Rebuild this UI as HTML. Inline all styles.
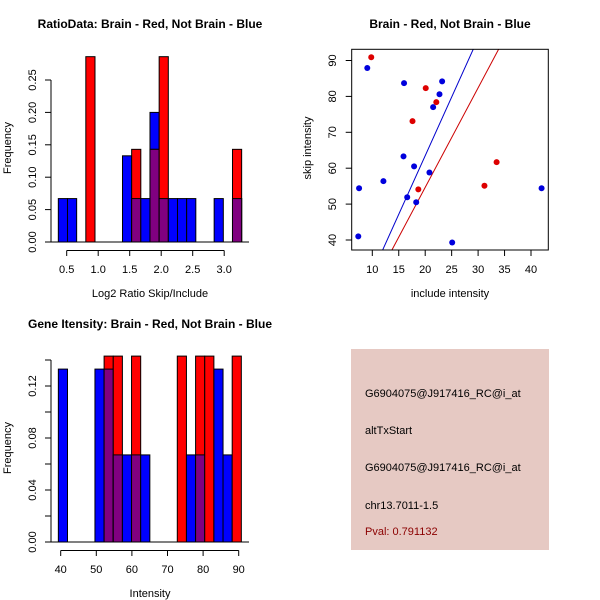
<!DOCTYPE html>
<html><head><meta charset="utf-8"><style>
body{margin:0;background:#fff;}
svg{display:block;font-family:"Liberation Sans",sans-serif;}
</style></head><body>
<svg id="s" width="600" height="600"></svg>
<script>
// Panel 1: ratio histogram
const ratioBlue=[0.067,0.067,0,0,0,0,0,0.133,0.067,0.067,0.2,0.067,0.067,0.067,0.067,0,0,0.067,0,0.067];
const ratioRed=[0,0,0,0.286,0,0,0,0,0.143,0,0.143,0.286,0,0,0,0,0,0,0,0.143];
const ratioBinStart=0.367, ratioBinW=0.1455;
const ratioXTicks=[0.5,1.0,1.5,2.0,2.5,3.0];
const ratioYTicks=[0,0.05,0.10,0.15,0.20,0.25];
// Panel 2: scatter
const blueX=[7.5,7.35,9.05,12.1,16.0,15.9,17.9,16.6,18.3,20.8,21.5,22.7,23.2,25.1,42.0];
const blueY=[54.4,41.0,87.9,56.4,83.7,63.3,60.5,51.9,50.5,58.8,77.0,80.6,84.2,39.3,54.4];
const redX=[9.8,17.6,20.1,22.1,18.7,31.2,33.5];
const redY=[90.9,73.1,82.3,78.4,54.1,55.1,61.7];
const blueLine=[-1.82,3.265]; // intercept, slope
const redLine=[-0.78,2.772];
const scXTicks=[10,15,20,25,30,35,40];
const scYTicks=[40,50,60,70,80,90];
// Panel 3: intensity histogram
const intBlue=[0.133,0,0,0,0.133,0.133,0.067,0.067,0.067,0.067,0,0,0,0,0.067,0.067,0,0.133,0.067,0];
const intRed=[0,0,0,0,0,0.143,0.143,0,0.143,0,0,0,0,0.143,0,0.143,0.143,0,0,0.143];
const intBinStart=39.34, intBinW=2.57;
const intXTicks=[40,50,60,70,80,90];
const intYTicks=[0,0.04,0.08,0.12];
const intYLabels=["0.00","0.04","0.08","0.12"];

const S=document.getElementById('s');const NS='http://www.w3.org/2000/svg';
function el(t,a,txt){const e=document.createElementNS(NS,t);for(const k in a)e.setAttribute(k,a[k]);if(txt!==undefined)e.textContent=txt;S.appendChild(e);return e;}
function txt(x,y,s,opt){opt=opt||{};const a={x:x,y:y,'font-size':opt.fs||11,'text-anchor':opt.anchor||'middle',fill:opt.fill||'#000'};if(opt.bold)a['font-weight']='bold';if(opt.rot)a.transform='rotate(-90 '+x+' '+y+')';return el('text',a,s);}

function hist(blue,red,binStart,binW,sx,sy,nm){
  for(let i=0;i<blue.length;i++){
    const x0=sx(binStart+i*binW),x1=sx(binStart+(i+1)*binW);
    const b=blue[i],r=red[i],m=Math.min(b,r);
    if(b>0){const e=el('rect',{x:x0,y:sy(b),width:x1-x0,height:sy(0)-sy(b),fill:'#0000ff',stroke:'#000','stroke-width':1});
      
      }
    if(r>0){const e=el('rect',{x:x0,y:sy(r),width:x1-x0,height:sy(0)-sy(r),fill:'#ff0000',stroke:'#000','stroke-width':1});
      
      }
    if(m>0){const e=el('rect',{x:x0,y:sy(m),width:x1-x0,height:sy(0)-sy(m),fill:'#800080',stroke:'#000','stroke-width':1});
      
      }
  }
}

// Panel 1
{
const sx=v=>66.7+(v-0.5)*63, sy=v=>242-v*648;
hist(ratioBlue,ratioRed,ratioBinStart,ratioBinW,sx,sy,'ratio');
el('line',{x1:51,y1:242,x2:249,y2:242,stroke:'#000'});
el('line',{x1:51,y1:sy(0),x2:51,y2:sy(0.25),stroke:'#000'});
ratioYTicks.forEach(v=>{el('line',{x1:45,y1:sy(v),x2:51,y2:sy(v),stroke:'#000'});txt(36,sy(v),v.toFixed(2),{rot:1});});
el('line',{x1:sx(0.5),y1:250.5,x2:sx(3.0),y2:250.5,stroke:'#000'});
ratioXTicks.forEach(v=>{el('line',{x1:sx(v),y1:250.5,x2:sx(v),y2:256,stroke:'#000'});txt(sx(v),273,v.toFixed(1));});
txt(150,297,'Log2 Ratio Skip/Include');
txt(11,148,'Frequency',{rot:1});
txt(150,28,'RatioData: Brain - Red, Not Brain - Blue',{bold:1,fs:12});
}
// Panel 2
{
const sx=v=>372.3+(v-10)*5.29, sy=v=>240-(v-40)*3.59;
const L=351.7,R=548.3,T=49.3,B=250;
const cp=el('clipPath',{id:'cp'});const cr=document.createElementNS(NS,'rect');cr.setAttribute('x',L);cr.setAttribute('y',T);cr.setAttribute('width',R-L);cr.setAttribute('height',B-T);cp.appendChild(cr);
[[blueLine,'#0000cc','blue-fit-line'],[redLine,'#cc0000','red-fit-line']].forEach(([ln,c,n])=>{
  const e=el('line',{x1:sx(0),y1:sy(ln[0]),x2:sx(50),y2:sy(ln[0]+ln[1]*50),stroke:c,'clip-path':'url(#cp)'});
  
  });
blueX.forEach((x,i)=>{const e=el('circle',{cx:sx(x),cy:sy(blueY[i]),r:3,fill:'#0000dd'});
  
  });
redX.forEach((x,i)=>{const e=el('circle',{cx:sx(x),cy:sy(redY[i]),r:3,fill:'#dd0000'});
  
  });
el('rect',{x:L,y:T,width:R-L,height:B-T,fill:'none',stroke:'#000'});
scXTicks.forEach(v=>{el('line',{x1:sx(v),y1:B,x2:sx(v),y2:B+6,stroke:'#000'});txt(sx(v),273,String(v));});
scYTicks.forEach(v=>{el('line',{x1:L-6,y1:sy(v),x2:L,y2:sy(v),stroke:'#000'});txt(336,sy(v),String(v),{rot:1});});
txt(450,297,'include intensity');
txt(311,148,'skip intensity',{rot:1});
txt(450,28,'Brain - Red, Not Brain - Blue',{bold:1,fs:12});
}
// Panel 3
{
const sx=v=>60.7+(v-40)*3.56, sy=v=>542-v*1300;
hist(intBlue,intRed,intBinStart,intBinW,sx,sy,'intensity');
el('line',{x1:51,y1:542,x2:249,y2:542,stroke:'#000'});
el('line',{x1:51,y1:sy(0),x2:51,y2:sy(0.14),stroke:'#000'});
[0,0.02,0.04,0.06,0.08,0.10,0.12,0.14].forEach(v=>el('line',{x1:45,y1:sy(v),x2:51,y2:sy(v),stroke:'#000'}));
intYTicks.forEach((v,i)=>txt(36,sy(v),intYLabels[i],{rot:1}));
el('line',{x1:sx(40),y1:550.5,x2:sx(90),y2:550.5,stroke:'#000'});
intXTicks.forEach(v=>{el('line',{x1:sx(v),y1:550.5,x2:sx(v),y2:556,stroke:'#000'});txt(sx(v),573,String(v));});
txt(150,597,'Intensity');
txt(11,448,'Frequency',{rot:1});
txt(150,328,'Gene Itensity: Brain - Red, Not Brain - Blue',{bold:1,fs:12});
}
// Panel 4 info box
{
const b=el('rect',{x:351,y:349,width:198,height:201,fill:'#e6c9c3'});


[['G6904075@J917416_RC@i_at',397,'#000'],['altTxStart',434,'#000'],['G6904075@J917416_RC@i_at',471,'#000'],['chr13.7011-1.5',509,'#000'],['Pval: 0.791132',535,'#8b0000']].forEach(([s,y,c])=>{
  const t=txt(365,y,s,{anchor:'start',fill:c,fs:11});
  
  });
}
</script>
</body></html>
